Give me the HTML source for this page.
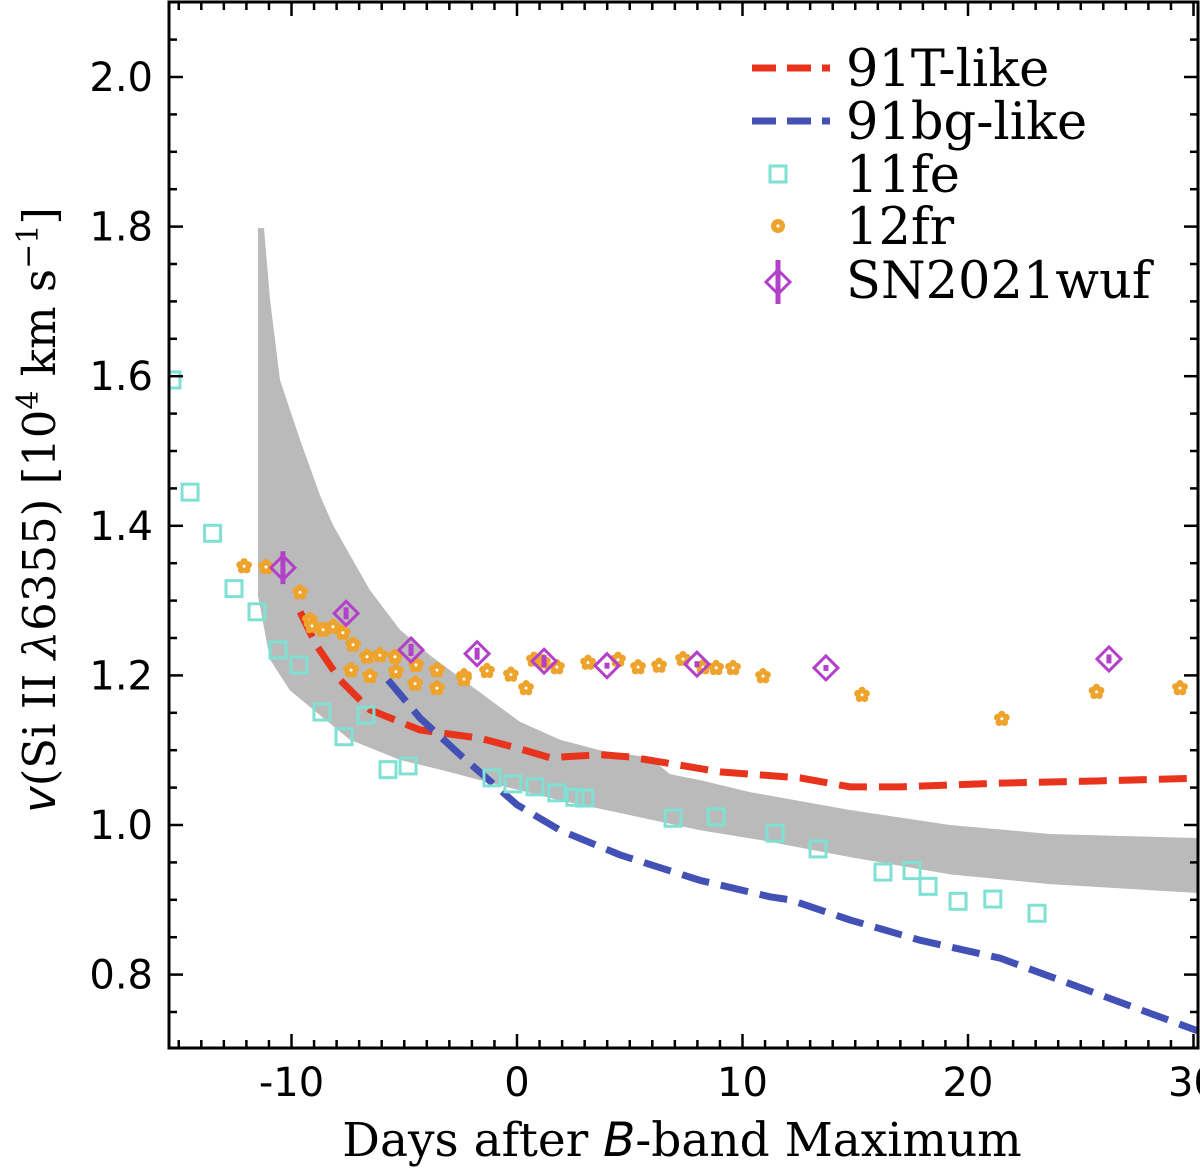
<!DOCTYPE html>
<html><head><meta charset="utf-8">
<style>
html,body{margin:0;padding:0;background:#fff;}
svg{display:block;}
.tk{font-family:"DejaVu Sans","Liberation Sans",sans-serif;font-size:40px;fill:#000;}
.sf{font-family:"DejaVu Serif","Liberation Serif",serif;fill:#000;}
</style></head>
<body>
<svg id="chart" width="1200" height="1168" viewBox="0 0 1200 1168" xmlns="http://www.w3.org/2000/svg">
<g id="plot"></g>
</svg>
<script>
const xTicks=[-10,0,10,20,30];
const yTicks=[0.8,1.0,1.2,1.4,1.6,1.8,2.0];
const yTickLabels=["0.8","1.0","1.2","1.4","1.6","1.8","2.0"];
const bandUpperDays=[-11.49,-11.22,-10.95,-10.51,-9.62,-8.74,-8.16,-7.41,-6.52,-5.19,-3.86,-2.08,0.13,1.91,3.68,5.9,6.78,8.12,10.33,14.77,19.2,23.64,30.8];
const bandUpperV=[1.798,1.798,1.702,1.595,1.515,1.441,1.401,1.361,1.314,1.261,1.227,1.187,1.138,1.114,1.100,1.090,1.068,1.060,1.044,1.020,1.000,0.988,0.982];
const bandLowerDays=[-11.49,-10.95,-10.07,-8.91,-7.41,-5.19,-3.41,-0.75,1.91,4.57,8.12,10.78,14.77,19.2,23.64,30.8];
const bandLowerV=[1.307,1.221,1.180,1.151,1.114,1.087,1.074,1.053,1.033,1.016,0.993,0.980,0.957,0.934,0.921,0.908];
const t91Days=[-9.62,-8.91,-7.85,-6.52,-4.3,-1.64,0,1.46,3.68,5.01,7.23,9.0,12.55,14.77,16.98,21.42,25.85,30.8];
const t91V=[1.285,1.241,1.194,1.154,1.127,1.116,1.103,1.090,1.094,1.091,1.080,1.071,1.063,1.051,1.051,1.056,1.059,1.063];
const bg91Days=[-5.72,-4.3,-2.53,0,1.91,4.57,8.12,11.22,12.11,14.77,17.87,21.42,25.85,30.8];
const bg91V=[1.194,1.143,1.094,1.027,0.993,0.960,0.926,0.904,0.900,0.873,0.846,0.822,0.773,0.718];
const fe11Days=[-15.3,-14.5,-13.5,-12.55,-11.53,-10.6,-9.67,-8.65,-7.67,-6.7,-5.72,-4.83,-1.11,-0.18,0.8,1.77,2.57,3.0,6.92,8.83,11.44,13.35,16.23,17.52,18.23,19.56,21.1,23.06];
const fe11V=[1.595,1.445,1.39,1.316,1.285,1.234,1.214,1.151,1.118,1.147,1.074,1.079,1.063,1.055,1.051,1.043,1.037,1.036,1.009,1.011,0.989,0.968,0.937,0.939,0.918,0.898,0.901,0.882];
const fr12Days=[-12.1,-11.13,-9.62,-9.18,-9.09,-8.6,-8.16,-7.72,-7.27,-7.36,-6.65,-6.52,-6.08,-5.41,-5.37,-4.48,-4.52,-3.55,-3.55,-2.35,-2.35,-1.33,-0.27,0.4,0.75,1.15,1.77,3.15,4.48,5.37,6.3,7.36,8.25,8.83,9.58,10.91,15.3,21.5,25.7,29.4];
const fr12V=[1.346,1.345,1.311,1.274,1.266,1.261,1.265,1.257,1.241,1.207,1.225,1.199,1.227,1.225,1.205,1.214,1.189,1.207,1.183,1.199,1.195,1.206,1.201,1.183,1.221,1.218,1.211,1.217,1.221,1.211,1.213,1.222,1.211,1.210,1.210,1.199,1.174,1.142,1.178,1.183];
const wufDays=[-10.38,-7.58,-4.7,-1.77,1.2,3.99,7.98,13.7,26.25];
const wufV=[1.344,1.283,1.234,1.229,1.219,1.213,1.215,1.210,1.222];
const wufErr=[0.022,0.008,0.008,0.008,0.008,0.004,0.004,0.004,0.006];

const L=169,R=1198,T=2,B=1048;
const X=d=>517+22.55*d;
const Y=v=>77+(2.0-v)*748;
const NS="http://www.w3.org/2000/svg";
const svg=document.getElementById('chart');
const plot=document.getElementById('plot');
function mk(tag,attrs,parent){const e=document.createElementNS(NS,tag);for(const k in attrs)e.setAttribute(k,attrs[k]);(parent||svg).appendChild(e);return e;}

const defs=mk('defs',{});
const cp=mk('clipPath',{id:'clip'},defs);
mk('rect',{x:L,y:T,width:R-L,height:B-T},cp);
plot.setAttribute('clip-path','url(#clip)');

let pts=bandUpperDays.map((d,i)=>X(d)+','+Y(bandUpperV[i]));
for(let i=bandLowerDays.length-1;i>=0;i--)pts.push(X(bandLowerDays[i])+','+Y(bandLowerV[i]));
const band=mk('polygon',{points:pts.join(' '),fill:'#bababa',stroke:'none'},plot);



function line(ds,vs,color,name){
 const p=mk('polyline',{points:ds.map((d,i)=>X(d)+','+Y(vs[i])).join(' '),fill:'none',stroke:color,'stroke-width':7,'stroke-dasharray':'28,12'},plot);
 
 
}
line(t91Days,t91V,'#e8341c','line-91t-like');
line(bg91Days,bg91V,'#4350b5','line-91bg-like');

fe11Days.forEach((d,i)=>{
 const r=mk('rect',{x:X(d)-8,y:Y(fe11V[i])-8,width:16,height:16,fill:'none',stroke:'#7fe0d4','stroke-width':3},plot);
 
 
});
function star(cx,cy,parent){
 const g=mk('g',{},parent);
 for(let k=0;k<5;k++){const a=-Math.PI/2+k*2*Math.PI/5;mk('circle',{cx:cx+4.5*Math.cos(a),cy:cy+4.5*Math.sin(a),r:3.6,fill:'#eea42c'},g);}
 mk('circle',{cx:cx,cy:cy,r:3.5,fill:'#eea42c'},g);
 mk('circle',{cx:cx,cy:cy,r:1.5,fill:'#fff'},g);
 return g;
}
fr12Days.forEach((d,i)=>{
 const g=star(X(d),Y(fr12V[i]),plot);
 
 
});
function diamond(cx,cy,err,parent){
 const g=mk('g',{},parent);
 mk('line',{x1:cx,y1:cy-err,x2:cx,y2:cy+err,stroke:'#b340c8','stroke-width':5},g);
 mk('polygon',{points:`${cx},${cy-12} ${cx+12},${cy} ${cx},${cy+12} ${cx-12},${cy}`,fill:'none',stroke:'#b340c8','stroke-width':3},g);
 return g;
}
wufDays.forEach((d,i)=>{
 const g=diamond(X(d),Y(wufV[i]),wufErr[i]*748,plot);
 
 
});

const frame=mk('rect',{x:L,y:T,width:R-L,height:B-T,fill:'none',stroke:'#000','stroke-width':3});


const ticks=mk('g',{stroke:'#000','stroke-width':2.5});


for(let d=-15;d<=30;d++){
 const x=X(d);if(x<L||x>R)continue;
 const len=(d%10===0)?14:8;
 mk('line',{x1:x,y1:B,x2:x,y2:B-len},ticks);
 mk('line',{x1:x,y1:T,x2:x,y2:T+len},ticks);
}
for(let k=14;k<=42;k++){
 const v=k*0.05,y=Y(v);if(y<T||y>B)continue;
 const len=(k%4===0)?14:8;
 mk('line',{x1:L,y1:y,x2:L+len,y2:y},ticks);
 mk('line',{x1:R,y1:y,x2:R-len,y2:y},ticks);
}
xTicks.forEach(d=>{
 const t=mk('text',{x:X(d),y:1096,'text-anchor':'middle',class:'tk'});
 t.textContent=String(d);
 
 
});
yTicks.forEach((v,i)=>{
 const t=mk('text',{x:153,y:Y(v)+14,'text-anchor':'end',class:'tk'});
 t.textContent=yTickLabels[i];
 
 
});
</script>
<svg style="position:absolute;left:0;top:0" width="1200" height="1168" xmlns="http://www.w3.org/2000/svg">
<text class="sf" x="682" y="1156" text-anchor="middle" font-size="47">Days after <tspan font-family="DejaVu Sans" font-style="italic">B</tspan>-band Maximum</text>
<text class="sf" font-size="45" transform="translate(55,510) rotate(-90)" text-anchor="middle"><tspan font-family="DejaVu Sans" font-style="italic">v</tspan>(Si II <tspan font-style="italic">λ</tspan>6355) [10<tspan font-size="30" dy="-17">4</tspan><tspan dy="17"> km s</tspan><tspan font-size="30" dy="-17">−1</tspan><tspan dy="17">]</tspan></text>
<g>
<g><line x1="752" y1="68" x2="830" y2="68" stroke="#e8341c" stroke-width="7" stroke-dasharray="24,11"/><text class="sf" x="846" y="86" font-size="51">91T-like</text></g>
<g><line x1="752" y1="121" x2="830" y2="121" stroke="#4350b5" stroke-width="7" stroke-dasharray="24,11"/><text class="sf" x="846" y="139" font-size="51">91bg-like</text></g>
<g><rect x="770" y="166" width="16" height="16" fill="none" stroke="#7fe0d4" stroke-width="3"/><text class="sf" x="846" y="192" font-size="51">11fe</text></g>
<g><circle cx="778" cy="226" r="7" fill="#eea42c"/><circle cx="778" cy="226" r="1.6" fill="#fff"/><text class="sf" x="846" y="244" font-size="51">12fr</text></g>
<g><line x1="778" y1="260" x2="778" y2="304" stroke="#b340c8" stroke-width="5"/><polygon points="778,270 790,282 778,294 766,282" fill="none" stroke="#b340c8" stroke-width="3"/><text class="sf" x="846" y="298" font-size="51">SN2021wuf</text></g>
</g>
</svg>
</body></html>
